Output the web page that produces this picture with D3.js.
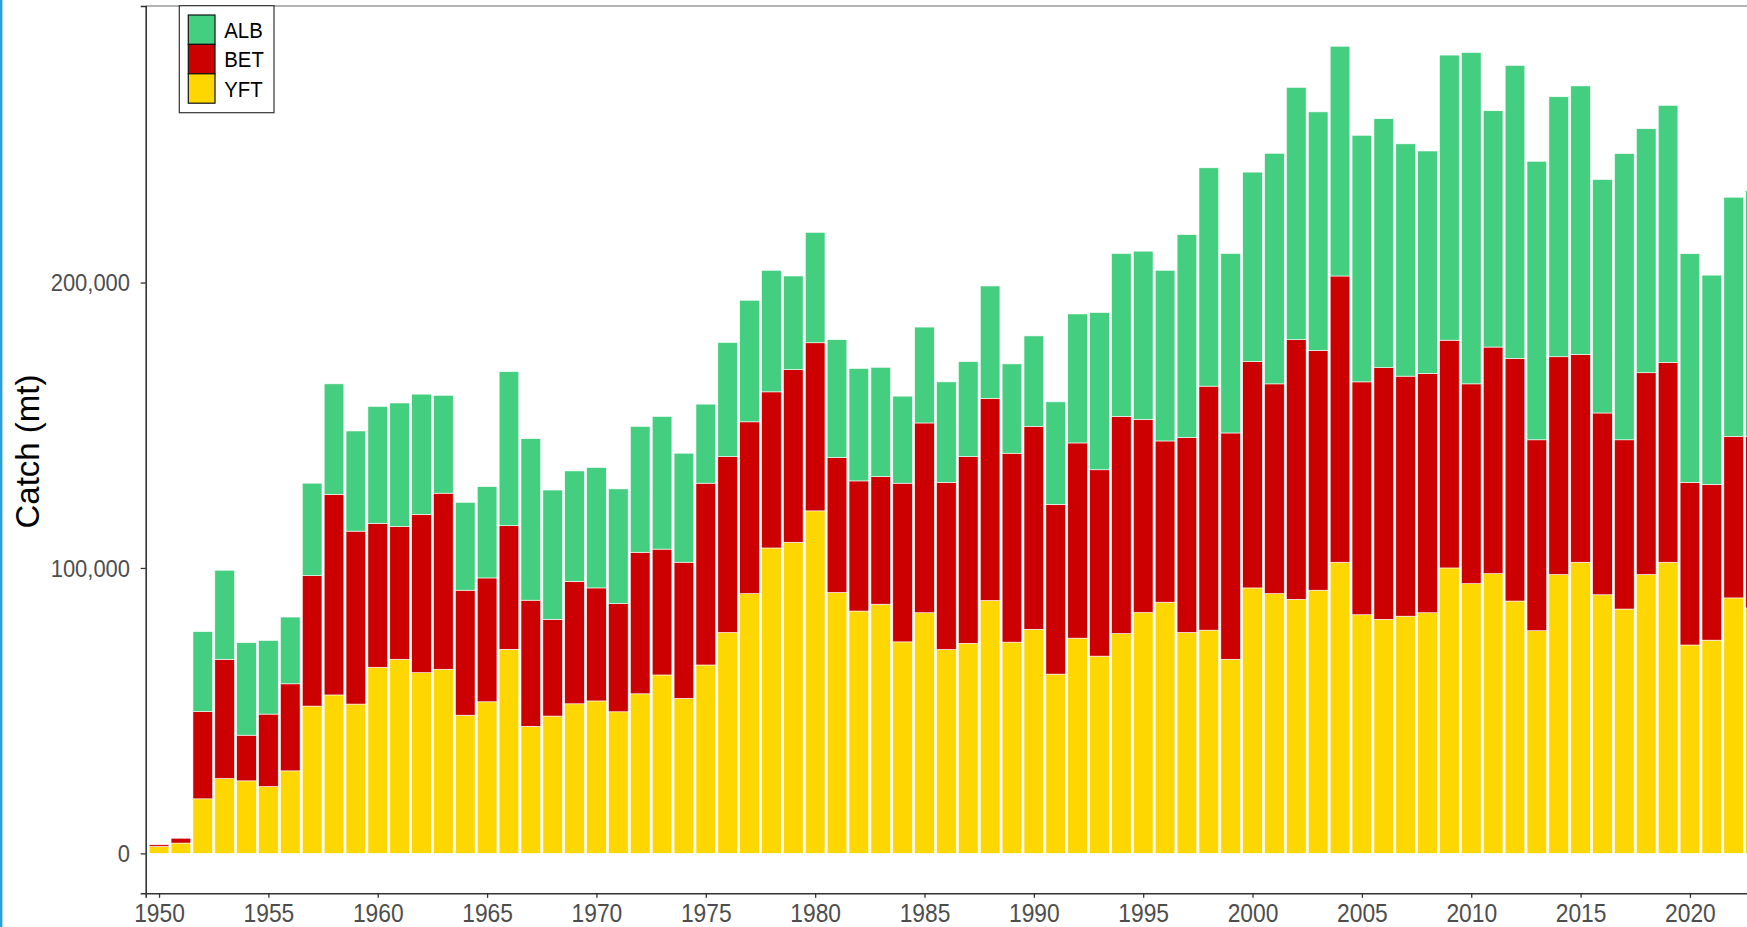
<!DOCTYPE html>
<html><head><meta charset="utf-8">
<script src="https://cdn.jsdelivr.net/npm/d3@7"></script>
<style>
body{margin:0;background:#fff}
svg{display:block;background:#fff}
text{font-family:"Liberation Sans",Arial,Helvetica,sans-serif}
</style>
</head><body>
<svg id="chart" width="1747" height="927"></svg>
<script>
// ---- data (tonnes) ----
const years = [1950,1951,1952,1953,1954,1955,1956,1957,1958,1959,
  1960,1961,1962,1963,1964,1965,1966,1967,1968,1969,
  1970,1971,1972,1973,1974,1975,1976,1977,1978,1979,
  1980,1981,1982,1983,1984,1985,1986,1987,1988,1989,
  1990,1991,1992,1993,1994,1995,1996,1997,1998,1999,
  2000,2001,2002,2003,2004,2005,2006,2007,2008,2009,
  2010,2011,2012,2013,2014,2015,2016,2017,2018,2019,
  2020,2021,2022,2023];
const YFT = [2400,3600,19100,26200,25400,23400,28900,51600,55500,52300,
  65200,68000,63300,64500,48400,53100,71500,44500,48100,52400,
  53400,49600,55900,62500,54300,66000,77400,91000,107000,109000,
  120000,91400,84900,87300,74100,84300,71400,73600,88600,74000,
  78500,62800,75400,69100,77000,84400,88000,77400,78200,68000,
  93000,91000,89000,92200,102000,83600,82000,83100,84300,100000,
  94500,98000,88400,78000,97700,102000,90600,85600,97700,102000,
  73000,74700,89500,86000];
const BET = [600,1700,30600,41800,16000,25400,30500,45700,70300,60600,
  50400,46500,55500,61700,43800,43400,43300,44200,33900,42900,
  39600,37900,49600,44100,47700,63700,61600,60200,54700,60500,
  58900,47300,45600,44700,55600,66500,58600,65400,70800,66200,
  71100,59500,68400,65300,76100,67600,56500,68300,85500,79300,
  79300,73500,91000,84000,100300,81600,88200,84100,83800,79800,
  70000,79400,85000,66900,76300,72800,63700,59300,70700,70000,
  57000,54600,56600,60000];
const ALB = [0,0,28000,31200,32400,25800,23400,32400,38700,35100,
  41000,43300,42100,34300,30800,32000,54000,56600,45300,38700,
  42200,40200,44100,46500,38200,27700,40000,42600,42600,32800,
  38700,41300,39400,38300,30500,33600,35200,33300,39400,31300,
  31700,35900,45200,55100,57100,59000,59800,71100,76500,62900,
  66400,80800,88400,83600,80500,86400,87200,81400,78000,99900,
  116100,82800,102700,97600,91100,94100,81800,100300,85500,90100,
  80100,73300,83800,86300];
const speciesKeys = ["YFT","BET","ALB"];        // stack order, bottom to top
const legendKeys = ["ALB","BET","YFT"];
const colors = {ALB:"#44CE80", BET:"#CC0000", YFT:"#FFD700"};
const xTicks = [1950,1955,1960,1965,1970,1975,1980,1985,1990,1995,2000,2005,2010,2015,2020];
const yTicks = [0,100000,200000];

// ---- build table ----
const table = years.map((yr,i)=>({year:yr, YFT:YFT[i], BET:BET[i], ALB:ALB[i]}));
const stacked = d3.stack().keys(speciesKeys)(table);

const svg = d3.select("#chart");
const W = 1747, H = 927;
const panelLeft = 145.7, panelTop = 6, panelBottom = 893.3;
const step = 21.87;

const x = d3.scaleLinear().domain([1949.39, 2025]).range([panelLeft, panelLeft + (2025-1949.39)*step]);
const y = d3.scaleLinear().domain([-14000, 296900]).range([panelBottom, panelTop]);
const bw = 0.9*step;

// blue edge artefact at far left
svg.append("rect").attr("x",0).attr("y",0).attr("width",2).attr("height",H).attr("fill","#2a9fd6");
svg.append("rect").attr("x",2).attr("y",0).attr("width",1).attr("height",H).attr("fill","#a8d8ef");

// bars
svg.append("g").selectAll("g").data(stacked).join("g")
  .attr("fill", d=>colors[d.key])
  .selectAll("rect").data(d=>d).join("rect")
  .attr("x", d=>x(d.data.year)-bw/2)
  .attr("width", bw)
  .attr("y", d=>y(d[1]))
  .attr("height", d=>Math.max(0, y(d[0])-y(d[1])))
  .attr("stroke","#ffffff").attr("stroke-width",0.6);

// top border
svg.append("line").attr("x1",panelLeft).attr("x2",W).attr("y1",panelTop).attr("y2",panelTop)
  .attr("stroke","#9a9a9a").attr("stroke-width",1.4);

// x axis
const gx = svg.append("g").attr("transform",`translate(0,${panelBottom})`)
  .call(d3.axisBottom(x).tickValues(xTicks).tickFormat(d3.format("d")).tickSizeOuter(0).tickSize(4.5));
gx.select(".domain").attr("stroke","#333").attr("stroke-width",1.6);
gx.selectAll(".tick line").attr("stroke","#333").attr("stroke-width",1.3);
gx.selectAll(".tick text").attr("fill","#4d4d4d").attr("font-size","25px")
  .attr("y",28.4).attr("dy",0)
  .each(function(){ const l=this.getComputedTextLength(); this.setAttribute("textLength", l*0.912); this.setAttribute("lengthAdjust","spacingAndGlyphs"); });

// y axis
const gy = svg.append("g").attr("transform",`translate(${panelLeft},0)`)
  .call(d3.axisLeft(y).tickValues(yTicks).tickFormat(d3.format(",")).tickSizeOuter(0).tickSize(5));
gy.select(".domain").attr("stroke","#333").attr("stroke-width",1.6);
gy.selectAll(".tick line").attr("stroke","#333").attr("stroke-width",1.3);
gy.selectAll(".tick text").attr("fill","#4d4d4d").attr("font-size","23px")
  .attr("x",-15.7).attr("dy","0.36em")
  .each(function(){ const l=this.getComputedTextLength(); this.setAttribute("textLength", l*0.954); this.setAttribute("lengthAdjust","spacingAndGlyphs"); });

// y title
svg.append("text").attr("transform","translate(39.3,451.5) rotate(-90)")
  .attr("text-anchor","middle").attr("font-size","33px").attr("fill","#000")
  .text("Catch (mt)");

// legend
const lg = svg.append("g");
lg.append("rect").attr("x",179.3).attr("y",5.7).attr("width",94.7).attr("height",107)
  .attr("fill","#fff").attr("stroke","#333").attr("stroke-width",1.2);
const kh = 29.4;
legendKeys.forEach((k,i)=>{
  lg.append("rect").attr("x",188.3).attr("y",15+i*kh).attr("width",26.7).attr("height",kh)
    .attr("fill",colors[k]).attr("stroke","#111").attr("stroke-width",1.2);
  lg.append("text").attr("x",224.3).attr("y",15+i*kh+kh/2+8).attr("font-size","22px").attr("fill","#000")
    .text(k)
    .each(function(){ const l=this.getComputedTextLength(); this.setAttribute("textLength", l*0.925); this.setAttribute("lengthAdjust","spacingAndGlyphs"); });
});
</script>
</body></html>
